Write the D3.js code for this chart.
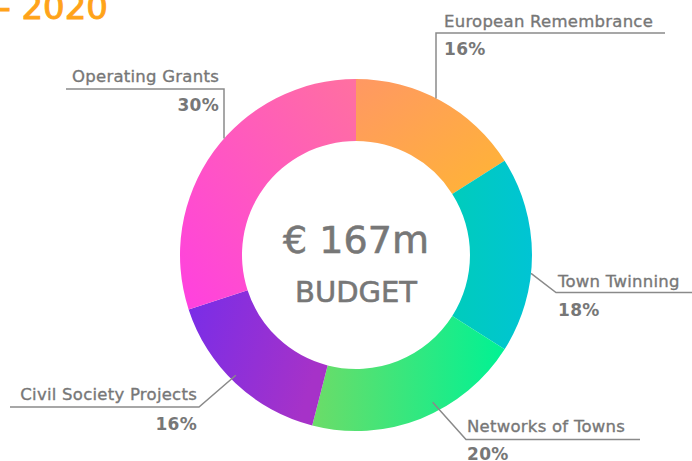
<!DOCTYPE html>
<html>
<head>
<meta charset="utf-8">
<script src="https://cdn.jsdelivr.net/npm/d3@7"></script>
<style>
  body { margin: 0; background: #fff; }
  svg { display: block; font-family: "DejaVu Sans", "Noto Sans", sans-serif; }
  .lbl { fill: #777; stroke: #777; stroke-width: 0.35px; font-size: 16.5px; letter-spacing: 0.25px; }
  .pct { fill: #777; font-size: 17px; font-weight: 700; letter-spacing: 0.3px; }
  .center { fill: #777; stroke: #777; stroke-width: 0.6px; }
  .leader { stroke: #8a8a8a; stroke-width: 1.5px; fill: none; }
</style>
</head>
<body>
<svg id="chart" width="692" height="461"></svg>
<script>
// slices, clockwise from 12 o'clock
var categories = ["European Remembrance", "Town Twinning", "Networks of Towns", "Civil Society Projects", "Operating Grants"];
var shares = [16, 18, 20, 16, 30];
var colorFrom = ["#ff9863", "#00ccbc", "#6cdc68", "#782de8", "#ff40e0"];
var colorTo   = ["#ffb534", "#00c4d4", "#00f294", "#a632c8", "#ff70a0"];
var budgetText = "€ 167m";
var budgetLabel = "BUDGET";
var titleText = "2014 - 2020";

var W = 692, H = 461;
var cx = 356, cy = 255, rOuter = 176, rInner = 114;

var svg = d3.select("#chart");
var defs = svg.append("defs");

// gradient direction per slice (objectBoundingBox)
var gradDir = [
  [0, 0, 1, 1],
  [0, 0, 1, 0],
  [0, 0, 1, 0],
  [0, 0, 1, 0.3],
  [0, 1, 1, 0]
];
categories.forEach(function(c, i) {
  var g = defs.append("linearGradient").attr("id", "grad" + i)
    .attr("x1", gradDir[i][0]).attr("y1", gradDir[i][1])
    .attr("x2", gradDir[i][2]).attr("y2", gradDir[i][3]);
  g.append("stop").attr("offset", "0%").attr("stop-color", colorFrom[i]);
  g.append("stop").attr("offset", "100%").attr("stop-color", colorTo[i]);
});

// title (clipped at top-left like the source)
svg.append("text")
  .attr("x", 108).attr("y", 19)
  .attr("text-anchor", "end")
  .style("font-size", "34px")
  .style("fill", "#ffa319").style("stroke", "#ffa319").style("stroke-width", "1px")
  .text(titleText);

var pie = d3.pie().sort(null).value(function(d) { return d; });
var arc = d3.arc().innerRadius(rInner).outerRadius(rOuter);
var arcs = pie(shares);

var donut = svg.append("g").attr("transform", "translate(" + cx + "," + cy + ")");
donut.selectAll("path.slice")
  .data(arcs)
  .enter().append("path")
  .attr("class", "slice")
  .attr("d", arc)
  .attr("fill", function(d, i) { return "url(#grad" + i + ")"; });

// center text
svg.append("text").attr("class", "center")
  .attr("x", cx).attr("y", 253)
  .attr("text-anchor", "middle")
  .style("font-size", "38px")
  .text(budgetText);
svg.append("text").attr("class", "center")
  .attr("x", cx).attr("y", 302)
  .attr("text-anchor", "middle")
  .style("font-size", "29px")
  .text(budgetLabel);

// leader line layout: angle (deg) of the point on the ring, elbow, end of underline, text side
var labelLayout = [
  { ang: 27.3,  r: rOuter, elbow: [436, 33],    lineEnd: 665, side: "right", tx: 444, ty: 27, py: 55 },
  { ang: 96,    r: rOuter, elbow: [556, 292.5], lineEnd: 692, side: "right", tx: 558, ty: 287, py: 316 },
  { ang: 152.5, r: rOuter - 10, elbow: [466, 439.5], lineEnd: 640, side: "right", tx: 467, ty: 432, py: 459.5 },
  { ang: 225,   r: rOuter - 6, elbow: [199, 407], lineEnd: 10,  side: "left",  tx: 197, ty: 400, py: 430 },
  { ang: 311.4, r: rOuter, elbow: [224, 89],    lineEnd: 66,  side: "left",  tx: 219, ty: 82, py: 111 }
];

var labels = svg.append("g");
labelLayout.forEach(function(L, i) {
  var a = L.ang * Math.PI / 180;
  var sx = cx + L.r * Math.sin(a), sy = cy - L.r * Math.cos(a);
  var line = d3.line();
  var pts;
  if (Math.abs(sx - L.elbow[0]) < 1.5) {
    pts = [[L.elbow[0], sy], L.elbow, [L.lineEnd, L.elbow[1]]];
  } else {
    pts = [[sx, sy], L.elbow, [L.lineEnd, L.elbow[1]]];
  }
  labels.append("path").attr("class", "leader").attr("d", line(pts));
  var anchor = L.side === "right" ? "start" : "end";
  labels.append("text").attr("class", "lbl")
    .attr("x", L.tx).attr("y", L.ty).attr("text-anchor", anchor)
    .text(categories[i]);
  labels.append("text").attr("class", "pct")
    .attr("x", L.tx).attr("y", L.py).attr("text-anchor", anchor)
    .text(shares[i] + "%");
});
</script>
</body>
</html>
